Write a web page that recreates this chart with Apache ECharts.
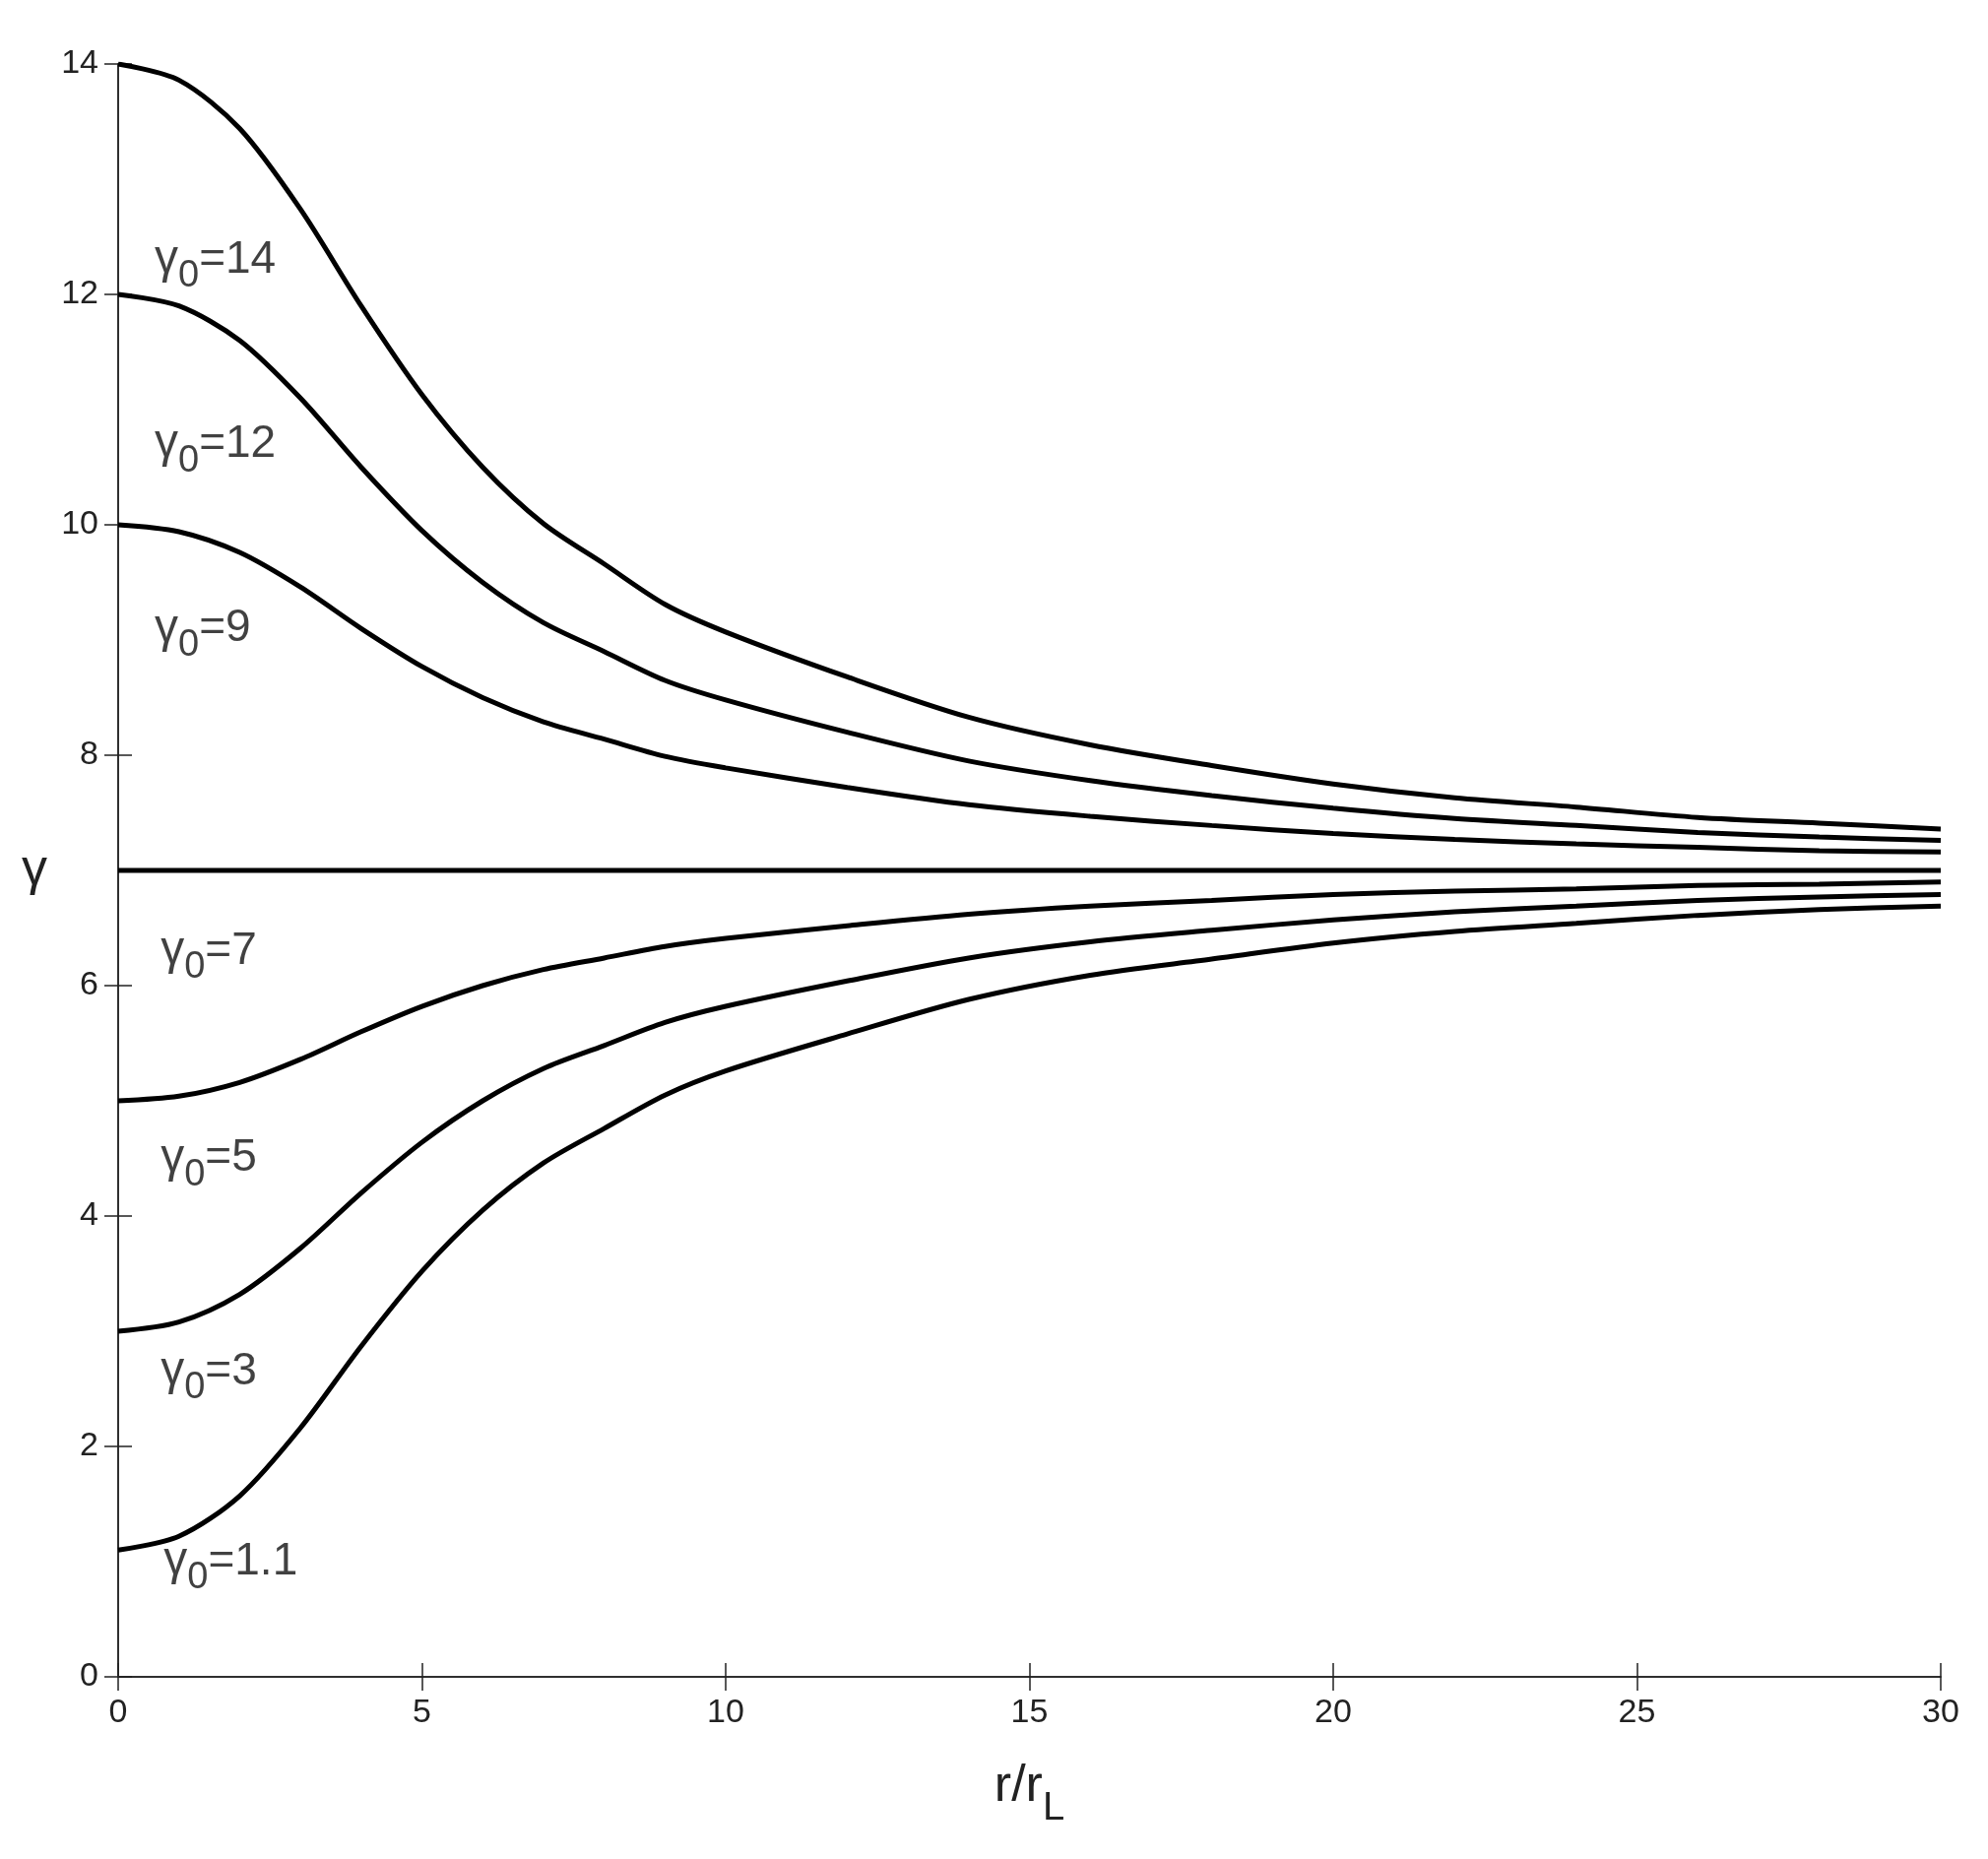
<!doctype html>
<html>
<head>
<meta charset="utf-8" />
<script src="https://cdn.jsdelivr.net/npm/echarts@6/dist/echarts.min.js"></script>
<style>html,body{margin:0;background:#fff}#main{width:2019px;height:1888px}</style>
</head>
<body>
<div id="main"></div>
<script>
// r/rL samples
var rr = [0,1,2,3,4,5,6,7,8,9,10,12,14,16,18,20,22,24,26,28,30];
var g14 = [14,13.86,13.44,12.74,11.9,11.13,10.5,10.01,9.66,9.31,9.07,8.68,8.33,8.09,7.91,7.75,7.63,7.55,7.46,7.41,7.36];
var g12 = [12,11.9,11.6,11.1,10.5,9.95,9.5,9.15,8.9,8.65,8.48,8.2,7.95,7.78,7.65,7.54,7.45,7.39,7.33,7.29,7.26];
var g9  = [10,9.94,9.76,9.46,9.1,8.77,8.5,8.29,8.14,7.99,7.89,7.72,7.57,7.47,7.39,7.32,7.27,7.23,7.2,7.17,7.16];
var g7  = [7,7,7,7,7,7,7,7,7,7,7,7,7,7,7,7,7,7,7,7,7];
var g5  = [5,5.04,5.16,5.36,5.6,5.82,6,6.14,6.24,6.34,6.41,6.52,6.62,6.69,6.74,6.79,6.82,6.84,6.87,6.88,6.9];
var g3  = [3,3.08,3.32,3.72,4.2,4.64,5,5.28,5.48,5.68,5.82,6.04,6.24,6.38,6.48,6.57,6.64,6.69,6.74,6.77,6.79];
var g11 = [1.1,1.22,1.57,2.16,2.87,3.52,4.05,4.46,4.76,5.05,5.26,5.58,5.88,6.09,6.23,6.37,6.47,6.54,6.61,6.66,6.69];
var curves = [g14, g12, g9, g7, g5, g3, g11];
// curve labels: [x, y, text]
var labels = [[0.6,12.3,'14'],[0.6,10.7,'12'],[0.6,9.1,'9'],[0.7,6.3,'7'],[0.7,4.5,'5'],[0.7,2.65,'3'],[0.75,1.0,'1.1']];

var font = 'Liberation Sans';
var series = curves.map(function (c) {
  return {type:'line', showSymbol:false, data: rr.map(function (x, i) { return [x, c[i]]; }),
    lineStyle:{color:'#000', width:5}, smooth:0.3, silent:true, z:3};
});
series.push({
  type:'scatter', symbolSize:0, silent:true,
  data: labels.map(function (l) { return {value:[l[0], l[1]], name:l[2]}; }),
  label:{show:true, position:'right', distance:0,
    formatter:function (p) { return '{g|γ}{s|0}{t|=' + p.name + '}'; },
    rich:{g:{fontSize:48,fontFamily:font,color:'#111'},
          s:{fontSize:38,fontFamily:font,color:'#111',padding:[34,0,0,0]},
          t:{fontSize:46,fontFamily:font,color:'#111'}}}
});

var ticksIn = {show:true, inside:true, length:14, lineStyle:{color:'#222', width:1.5}};
var line = {show:true, lineStyle:{color:'#222', width:1.5}};
var lab = {fontSize:34, fontFamily:font, color:'#222'};
var chart = echarts.init(document.getElementById('main'));
chart.setOption({
  backgroundColor:'#fff',
  animation:false,
  grid:{left:120, right:48, top:65, bottom:185},
  xAxis:[{type:'value', min:0, max:30, interval:5, axisLine:line, axisTick:ticksIn, splitLine:{show:false},
      axisLabel:Object.assign({margin:20}, lab),
      name:'{a|r/r}{b|L}', nameLocation:'middle', nameGap:70,
      nameTextStyle:{rich:{a:{fontSize:52,fontFamily:font,color:'#222'},b:{fontSize:40,fontFamily:font,color:'#222',padding:[44,0,0,0]}}}},
    {type:'value', position:'top', min:0, max:30, interval:5, axisLine:line, axisTick:ticksIn, axisLabel:{show:false}, splitLine:{show:false}}],
  yAxis:[{type:'value', min:0, max:14, interval:2, axisLine:line, axisTick:ticksIn, splitLine:{show:false},
      axisLabel:Object.assign({margin:20}, lab),
      name:'γ', nameLocation:'middle', nameGap:72, nameRotate:0,
      nameTextStyle:{fontSize:52, fontFamily:font, color:'#222'}},
    {type:'value', position:'right', min:0, max:14, interval:2, axisLine:line, axisTick:ticksIn, axisLabel:{show:false}, splitLine:{show:false}}],
  series:series
});
</script>
</body>
</html>
